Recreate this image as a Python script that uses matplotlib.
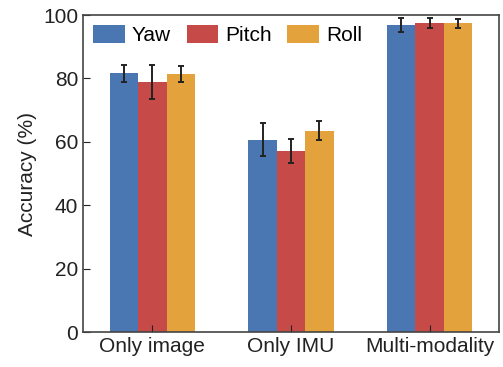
import numpy as np
import matplotlib
matplotlib.use('Agg')
import matplotlib.pyplot as plt

plt.rcParams['font.family'] = ['Liberation Sans', 'DejaVu Sans']

groups = ['Only image', 'Only IMU', 'Multi-modality']
series = ['Yaw', 'Pitch', 'Roll']
yaw = [81.7, 60.7, 96.8]
pitch = [78.8, 57.2, 97.5]
roll = [81.5, 63.5, 97.4]
yaw_err = [2.7, 5.2, 2.2]
pitch_err = [5.3, 3.8, 1.7]
roll_err = [2.5, 3.0, 1.5]
colors = ['#4a77b1', '#c64a48', '#e3a23b']

fig = plt.figure(figsize=(5.03, 3.67), dpi=100)
ax = fig.add_axes([0.165, 0.095, 0.827, 0.864])

x = np.arange(len(groups))
w = 0.205
for i, (vals, errs) in enumerate(zip([yaw, pitch, roll], [yaw_err, pitch_err, roll_err])):
    ax.bar(x + (i - 1) * w, vals, w, color=colors[i], label=series[i],
           yerr=errs, ecolor='#222222', capsize=2,
           error_kw=dict(elinewidth=1.4, capthick=1.4))

ax.set_xlim(-0.5, 2.5)
ax.set_ylim(0, 100)
ax.set_xticks(x)
ax.set_xticklabels(groups)
ax.set_yticks([0, 20, 40, 60, 80, 100])
ax.tick_params(direction='in', labelsize=15, colors='#222222', length=5)
ax.set_ylabel('Accuracy (%)', fontsize=15, color='#222222')
for s in ax.spines.values():
    s.set_color('#444444')
    s.set_linewidth(1.2)

ax.legend(loc='upper left', ncol=3, frameon=False, fontsize=15,
          handlelength=1.5, handleheight=0.9, handletextpad=0.35,
          columnspacing=0.75, borderaxespad=0.0, borderpad=0.5)

fig.savefig('out.png', dpi=100)
